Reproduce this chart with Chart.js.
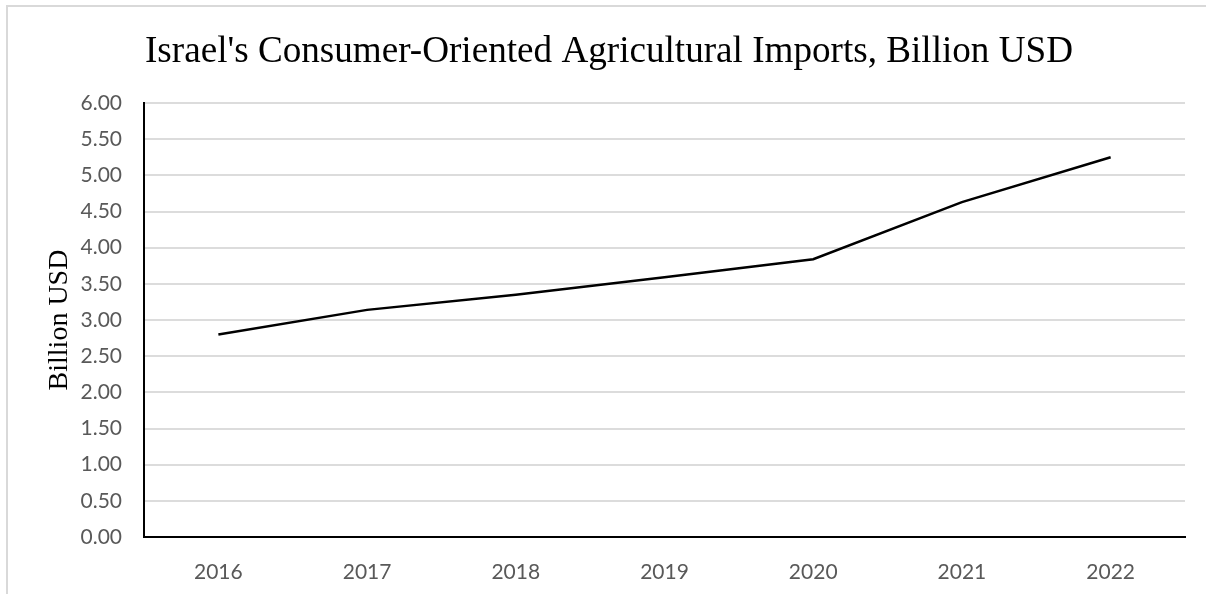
<!DOCTYPE html>
<html>
<head>
<meta charset="utf-8">
<script src="https://cdn.jsdelivr.net/npm/chart.js@4/dist/chart.umd.min.js"></script>
<style>
  html, body { margin: 0; padding: 0; background: #ffffff; }
  #wrap { width: 1206px; height: 594px; position: relative; }
</style>
</head>
<body>
<div id="wrap"><canvas id="c" width="1206" height="594"></canvas></div>
<script>
const categories = ["2016", "2017", "2018", "2019", "2020", "2021", "2022"];
const importsBillionUSD = [2.80, 3.14, 3.35, 3.59, 3.84, 4.63, 5.25];
const chartTitle = "Israel's Consumer-Oriented Agricultural Imports, Billion USD";
const yAxisTitle = "Billion USD";
const yTickMin = 0, yTickMax = 6, yTickStep = 0.5;

const framePlugin = {
  id: 'frame',
  beforeDraw(chart) {
    const ctx = chart.ctx;
    ctx.save();
    ctx.fillStyle = '#ffffff';
    ctx.fillRect(0, 0, chart.width, chart.height);
    ctx.strokeStyle = '#d9d9d9';
    ctx.lineWidth = 2;
    ctx.beginPath();
    ctx.moveTo(7, chart.height);
    ctx.lineTo(7, 6);
    ctx.lineTo(chart.width, 6);
    ctx.stroke();
    ctx.restore();
  },
  afterDraw(chart) {
    const ctx = chart.ctx;
    ctx.save();
    // title
    ctx.fillStyle = '#000000';
    ctx.font = '38px "Liberation Serif", "Times New Roman", serif';
    ctx.textBaseline = 'alphabetic';
    ctx.textAlign = 'left';
    const targetLeft = 145, targetRight = 1073;
    const w = ctx.measureText(chartTitle).width;
    const sx = Math.min(1, (targetRight - targetLeft) / w);
    ctx.save();
    ctx.translate(targetLeft, 62);
    ctx.scale(sx, 1);
    ctx.fillText(chartTitle, 0, 0);
    ctx.restore();
    // y axis title
    ctx.font = '28px "Liberation Serif", "Times New Roman", serif';
    ctx.translate(67, (chart.chartArea.top + chart.chartArea.bottom) / 2);
    ctx.rotate(-Math.PI / 2);
    ctx.textAlign = 'center';
    ctx.textBaseline = 'alphabetic';
    ctx.fillText(yAxisTitle, 0, 0);
    ctx.restore();
  }
};

new Chart(document.getElementById('c'), {
  type: 'line',
  data: {
    labels: categories,
    datasets: [{
      data: importsBillionUSD,
      borderColor: '#000000',
      borderWidth: 2.5,
      pointRadius: 0,
      tension: 0,
      fill: false
    }]
  },
  options: {
    responsive: false,
    animation: false,
    devicePixelRatio: 1,
    layout: { padding: { left: 0, right: 21, top: 103, bottom: 0 } },
    plugins: { legend: { display: false }, title: { display: false }, tooltip: { enabled: false } },
    scales: {
      x: {
        type: 'category',
        offset: true,
        grid: { display: false, drawTicks: false },
        border: { display: true, color: '#000000', width: 2 },
        ticks: {
          color: '#595959',
          font: { family: 'Lato, "Open Sans", sans-serif', size: 21 },
          padding: 23,
          maxRotation: 0,
          autoSkip: false
        },
        afterFit(scale) { scale.height = 594 - 537; }
      },
      y: {
        min: yTickMin,
        max: yTickMax,
        grid: {
          color: (ctx) => ctx.tick && ctx.tick.value === 0 ? 'rgba(0,0,0,0)' : '#dcdcdc',
          lineWidth: 2,
          drawTicks: false
        },
        border: { display: true, color: '#000000', width: 2 },
        ticks: {
          stepSize: yTickStep,
          color: '#595959',
          font: { family: 'Lato, "Open Sans", sans-serif', size: 21 },
          padding: 22,
          callback: (v) => Number(v).toFixed(2)
        },
        afterFit(scale) { scale.width = 144; }
      }
    }
  },
  plugins: [framePlugin]
});
</script>
</body>
</html>
